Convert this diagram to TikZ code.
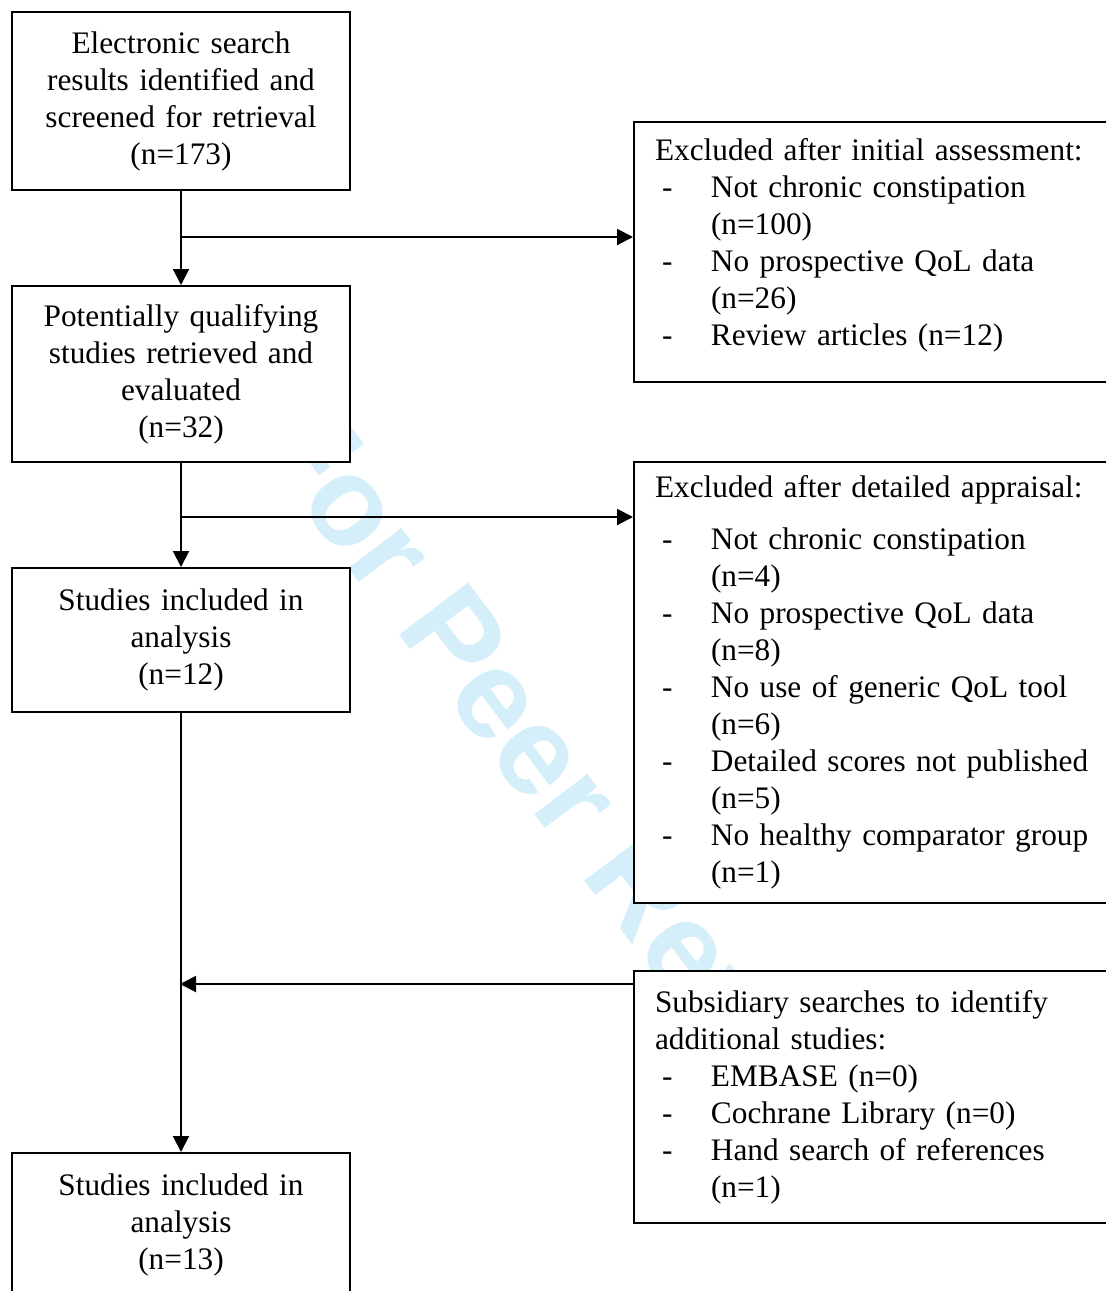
\documentclass[tikz,border=0pt]{standalone}
\usepackage{fontspec}
\setmainfont{Liberation Serif}
\newfontfamily\wmfont{Liberation Sans}
\usetikzlibrary{arrows.meta}
\definecolor{wmblue}{RGB}{212,238,250}
\newcommand{\itm}[1]{\makebox[28pt][l]{\hspace{3.5pt}-}#1}
\newcommand{\cnt}[1]{\hspace*{28pt}#1}
\tikzset{
  flowbox/.style={draw, line width=1pt, fill=white, text width=160pt, inner xsep=4.5pt,
    align=center, anchor=north west, font=\fontsize{15.65}{18.5}\selectfont},
  sidebox/.style={draw, line width=1pt, fill=white, text width=230pt, inner xsep=10.5pt,
    align=left, anchor=north west, font=\fontsize{15.65}{18.5}\selectfont},
  arr/.style={line width=1pt, -{Triangle[length=8pt,width=8pt]}},
}
\begin{document}
\begin{tikzpicture}[x=0.5pt,y=-0.5pt]  % ------ flow of study selection -----------
\useasboundingbox (0,0) rectangle (1106,1291);
\clip (0,0) rectangle (1106,1291);
    % watermark behind the boxes
    \node[rotate=-53, text=wmblue, font=\wmfont\bfseries\fontsize{63}{70}\selectfont] (wm) at (582,803) {For Peer Review};
    % left column
    \node[flowbox, minimum height=89pt] (search) at (11,11) {Electronic search\\results identified and\\screened for retrieval\\(n=173)};
    \node[flowbox, minimum height=88pt] (retrieved) at (11,285) {Potentially qualifying\\studies retrieved and\\evaluated\\(n=32)};
    \node[flowbox, minimum height=72pt] (included) at (11,567) {Studies included in\\analysis\\(n=12)};
    \node[flowbox, minimum height=72pt] (final) at (11,1152) {Studies included in\\analysis\\(n=13)};
    % right column
    \node[sidebox, minimum height=130pt] (initial) at (633,121) {Excluded after initial assessment:\\
      \itm{Not chronic constipation}\\ \cnt{(n=100)}\\
      \itm{No prospective QoL data}\\ \cnt{(n=26)}\\
      \itm{Review articles (n=12)}\rule[-10.5pt]{0pt}{10.5pt}};
    \node[sidebox, minimum height=220.5pt] (detailed) at (633,461) {Excluded after detailed appraisal:\\[7.5pt]
      \itm{Not chronic constipation}\\ \cnt{(n=4)}\\
      \itm{No prospective QoL data}\\ \cnt{(n=8)}\\
      \itm{No use of generic QoL tool}\\ \cnt{(n=6)}\\
      \itm{Detailed scores not published}\\ \cnt{(n=5)}\\
      \itm{No healthy comparator group}\\ \cnt{(n=1)}};
    \node[sidebox, minimum height=126pt] (subsid) at (633,970) {Subsidiary searches to identify\\additional studies:\\
      \itm{EMBASE (n=0)}\\
      \itm{Cochrane Library (n=0)}\\
      \itm{Hand search of references}\\ \cnt{(n=1)}};
    % connectors
    \coordinate (split1) at (180,237);
    \coordinate (split2) at (180,517);
    \coordinate (join) at (180,984);
    \draw[arr] (search.south) -- (retrieved.north);
    \draw[arr] (split1) -- (split1 -| initial.west);
    \draw[arr] (retrieved.south) -- (included.north);
    \draw[arr] (split2) -- (split2 -| detailed.west);
    \draw[arr] (included.south) -- (final.north);
    \draw[arr] (join -| subsid.west) -- (join);
\end{tikzpicture}
\end{document}
